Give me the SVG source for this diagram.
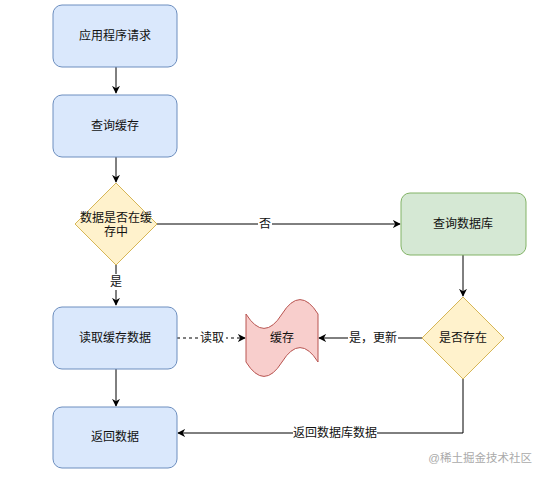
<svg xmlns="http://www.w3.org/2000/svg" width="547" height="478" viewBox="0 0 547 478">
<style>
text{font-family:"Liberation Sans","Noto Sans CJK SC",sans-serif;font-size:12px;fill:#111;text-anchor:middle;dominant-baseline:central}
.blue{fill:#dae8fc;stroke:#6c8ebf;stroke-width:1}
.green{fill:#d5e8d4;stroke:#82b366;stroke-width:1}
.yellow{fill:#fff2cc;stroke:#d6b656;stroke-width:1}
.red{fill:#f8cecc;stroke:#b85450;stroke-width:1}
.edge{fill:none;stroke:#000;stroke-width:1}
.dash{stroke-dasharray:3 3}
.lbl{fill:#fff}
.wm{font-size:11.5px;fill:#aaa;text-anchor:end}
</style>
<defs>
<marker id="arr" viewBox="0 0 10 10" refX="9" refY="5" markerWidth="8" markerHeight="8" orient="auto" markerUnits="userSpaceOnUse">
<path d="M0,0 L10,5 L0,10 L3,5 Z" fill="#000"/>
</marker>
</defs>
<rect width="547" height="478" fill="#fff"/>
<g id="connectors">
<path class="edge" d="M116,67 V93" marker-end="url(#arr)"/>
<path class="edge" d="M116,157 V182" marker-end="url(#arr)"/>
<path class="edge" d="M157,224 H400" marker-end="url(#arr)"/>
<rect class="lbl" x="258" y="216" width="14" height="16"/>
<text x="265" y="224">否</text>
<path class="edge" d="M116,265 V305" marker-end="url(#arr)"/>
<rect class="lbl" x="109" y="274" width="14" height="16"/>
<text x="116" y="282">是</text>
<path class="edge" d="M463,255 V296" marker-end="url(#arr)"/>
<path class="edge dash" d="M177,338 H245" marker-end="url(#arr)"/>
<rect class="lbl" x="198" y="330" width="28" height="16"/>
<text x="212" y="338">读取</text>
<path class="edge" d="M422,338 H319" marker-end="url(#arr)"/>
<rect class="lbl" x="348" y="330" width="50" height="16"/>
<text x="373" y="338">是，更新</text>
<path class="edge" d="M116,368 V406" marker-end="url(#arr)"/>
<path class="edge" d="M463,379 V433 H178" marker-end="url(#arr)"/>
<rect class="lbl" x="293" y="425" width="84" height="16"/>
<text x="335" y="433">返回数据库数据</text>
</g>
<g id="app-request">
<rect class="blue" x="53" y="5" width="124" height="62" rx="9"/>
<text x="115" y="36">应用程序请求</text>
</g>
<g id="query-cache">
<rect class="blue" x="53" y="95" width="124" height="62" rx="9"/>
<text x="115" y="126">查询缓存</text>
</g>
<g id="in-cache">
<path class="yellow" d="M116,183 L157,224 L116,265 L75,224 Z"/>
<text x="116" y="218">数据是否在缓</text>
<text x="116" y="232">存中</text>
</g>
<g id="query-db">
<rect class="green" x="401" y="193" width="125" height="62" rx="9"/>
<text x="463" y="224">查询数据库</text>
</g>
<g id="exists">
<path class="yellow" d="M463,297 L504,338 L463,379 L422,338 Z"/>
<text x="463" y="338">是否存在</text>
</g>
<g id="read-cache">
<rect class="blue" x="53" y="307" width="124" height="62" rx="9"/>
<text x="115" y="338">读取缓存数据</text>
</g>
<g id="cache">
<path class="red" d="M246,314 Q264,342.8 282,314 Q300,285.2 318,314 L318,362 Q300,333.2 282,362 Q264,390.8 246,362 Z"/>
<text x="282" y="338">缓存</text>
</g>
<g id="return-data">
<rect class="blue" x="53" y="407" width="124" height="61" rx="9"/>
<text x="115" y="437">返回数据</text>
</g>
<text class="wm" x="532" y="458">@稀土掘金技术社区</text>
</svg>
